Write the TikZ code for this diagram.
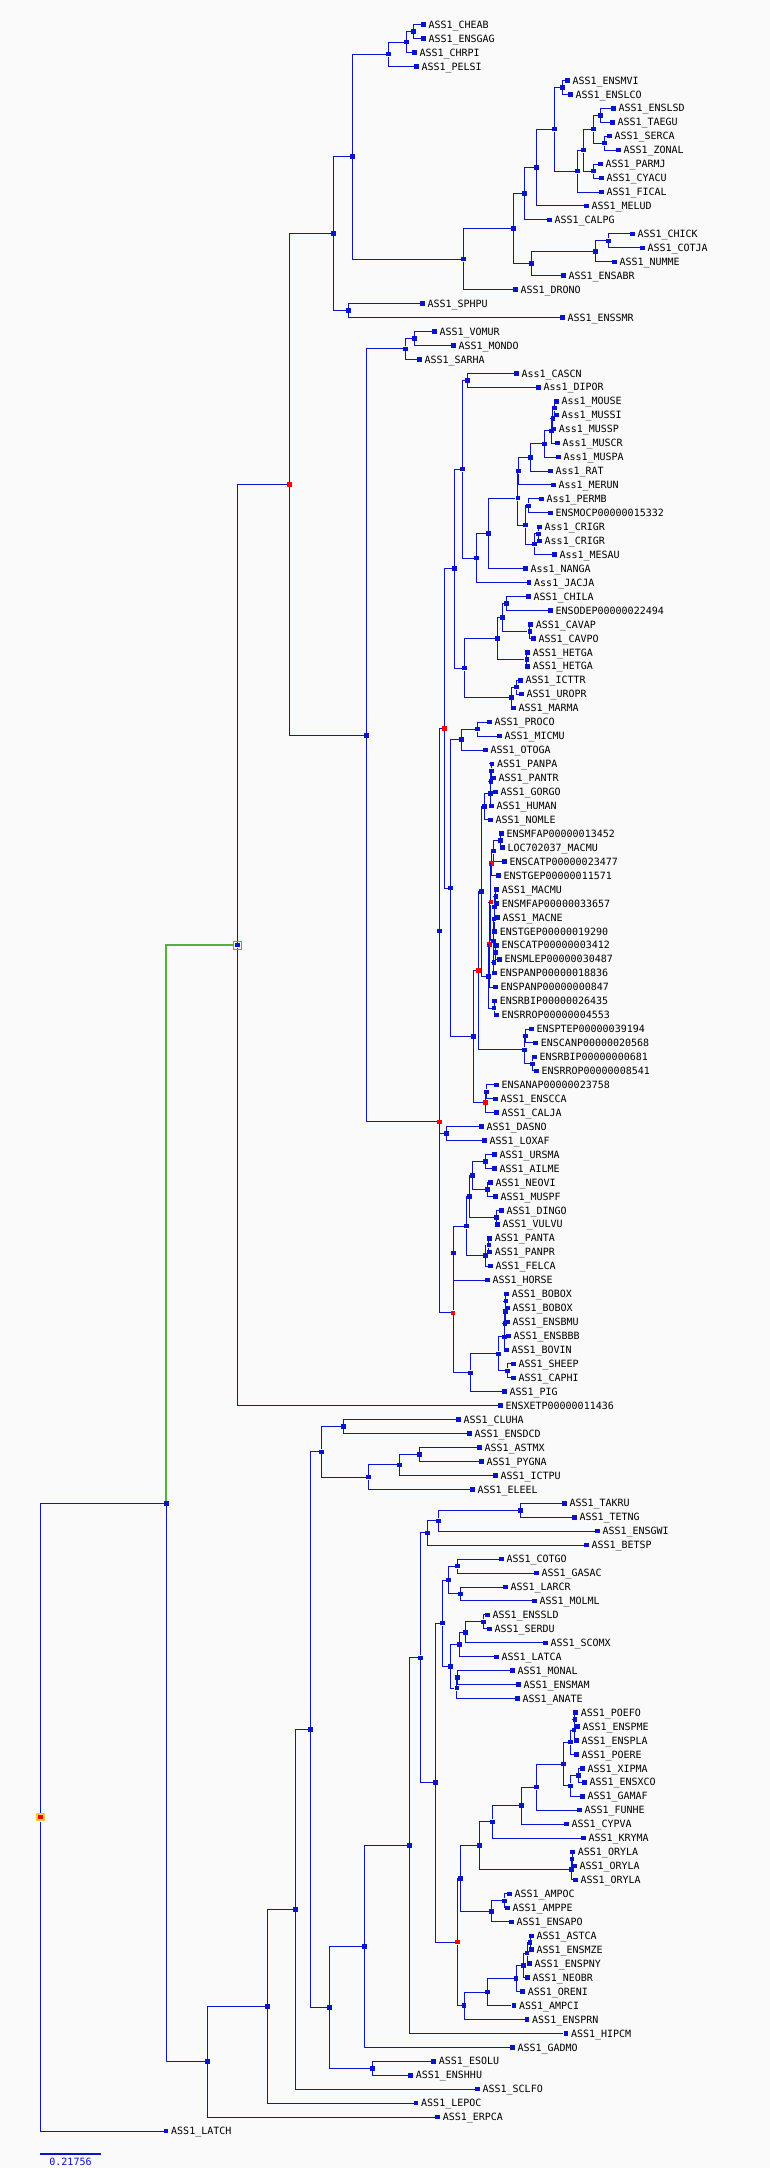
\documentclass[tikz,border=0pt]{standalone}
\usepackage{fontspec}
\setmonofont{DejaVu Sans Mono}
\usetikzlibrary{calc}
\definecolor{tb}{RGB}{10,20,205}
\definecolor{bgc}{RGB}{250,250,250}
\definecolor{gl}{RGB}{80,180,60}
\definecolor{rootyel}{RGB}{240,200,70}
\newcommand\myleaf[4]{%
  \node[sq] (#1) at (#2,{-24.6-(#3-1)*13.95}) {};
  \node[lab] (#1t) at ([xshift=5pt]#1.center) {\detokenize{#4}};}
\newcommand\mynodex[5]{%
  \path let \p1=(#4), \p2=(#5) in node[#1] (#2) at (#3,{0.5*(\y1+\y2)}) {};
  \draw[br] (#2) |- (#4);
  \draw[br] (#2) |- (#5);}
\newcommand\mynode{\mynodex{sq}}
\newcommand\myred{\mynodex{rsq}}
\begin{document}
\begin{tikzpicture}[x=1pt,y=1pt,
  br/.style={draw=tb,line width=1pt},
  gr/.style={draw=gl,line width=2.2pt},
  sq/.style={rectangle,fill=tb,inner sep=0pt,minimum size=4.5pt},
  rsq/.style={sq,fill=red},
  lab/.style={anchor=west,inner sep=0pt,font=\ttfamily\fontsize{10}{10}\selectfont,text height=7.3pt,text depth=0pt}]
\useasboundingbox (0,0) rectangle (770,-2168);
\fill[bgc] (0,0) rectangle (770,-2168);
% ---------------- leaves
\myleaf{l1}{423.3}{1}{ASS1_CHEAB}
\myleaf{l2}{423.3}{2}{ASS1_ENSGAG}
\myleaf{l3}{414.3}{3}{ASS1_CHRPI}
\myleaf{l4}{416.3}{4}{ASS1_PELSI}
\myleaf{l5}{567.3}{5}{ASS1_ENSMVI}
\myleaf{l6}{570.3}{6}{ASS1_ENSLCO}
\myleaf{l7}{613.3}{7}{ASS1_ENSLSD}
\myleaf{l8}{612.3}{8}{ASS1_TAEGU}
\myleaf{l9}{609.3}{9}{ASS1_SERCA}
\myleaf{l10}{618.3}{10}{ASS1_ZONAL}
\myleaf{l11}{600.3}{11}{ASS1_PARMJ}
\myleaf{l12}{601.3}{12}{ASS1_CYACU}
\myleaf{l13}{601.3}{13}{ASS1_FICAL}
\myleaf{l14}{586.3}{14}{ASS1_MELUD}
\myleaf{l15}{549.3}{15}{ASS1_CALPG}
\myleaf{l16}{632.3}{16}{ASS1_CHICK}
\myleaf{l17}{642.3}{17}{ASS1_COTJA}
\myleaf{l18}{614.3}{18}{ASS1_NUMME}
\myleaf{l19}{563.3}{19}{ASS1_ENSABR}
\myleaf{l20}{515.3}{20}{ASS1_DRONO}
\myleaf{l21}{422.3}{21}{ASS1_SPHPU}
\myleaf{l22}{562.3}{22}{ASS1_ENSSMR}
\myleaf{l23}{434.3}{23}{ASS1_VOMUR}
\myleaf{l24}{453.3}{24}{ASS1_MONDO}
\myleaf{l25}{419.3}{25}{ASS1_SARHA}
\myleaf{l26}{516.3}{26}{Ass1_CASCN}
\myleaf{l27}{538.3}{27}{Ass1_DIPOR}
\myleaf{l28}{556.3}{28}{Ass1_MOUSE}
\myleaf{l29}{556.3}{29}{Ass1_MUSSI}
\myleaf{l30}{553.6}{30}{Ass1_MUSSP}
\myleaf{l31}{557.3}{31}{Ass1_MUSCR}
\myleaf{l32}{558.3}{32}{Ass1_MUSPA}
\myleaf{l33}{550.3}{33}{Ass1_RAT}
\myleaf{l34}{553.3}{34}{Ass1_MERUN}
\myleaf{l35}{541.3}{35}{Ass1_PERMB}
\myleaf{l36}{550.3}{36}{ENSMOCP00000015332}
\myleaf{l37}{539.5}{37}{Ass1_CRIGR}
\myleaf{l38}{539.5}{38}{Ass1_CRIGR}
\myleaf{l39}{554.3}{39}{Ass1_MESAU}
\myleaf{l40}{525.3}{40}{Ass1_NANGA}
\myleaf{l41}{529.0}{41}{Ass1_JACJA}
\myleaf{l42}{528.3}{42}{ASS1_CHILA}
\myleaf{l43}{550.3}{43}{ENSODEP00000022494}
\myleaf{l44}{530.6}{44}{ASS1_CAVAP}
\myleaf{l45}{533.3}{45}{ASS1_CAVPO}
\myleaf{l46}{527.6}{46}{ASS1_HETGA}
\myleaf{l47}{527.6}{47}{ASS1_HETGA}
\myleaf{l48}{520.3}{48}{ASS1_ICTTR}
\myleaf{l49}{521.3}{49}{ASS1_UROPR}
\myleaf{l50}{513.3}{50}{ASS1_MARMA}
\myleaf{l51}{489.3}{51}{ASS1_PROCO}
\myleaf{l52}{499.3}{52}{ASS1_MICMU}
\myleaf{l53}{485.3}{53}{ASS1_OTOGA}
\myleaf{l54}{491.9}{54}{ASS1_PANPA}
\myleaf{l55}{493.3}{55}{ASS1_PANTR}
\myleaf{l56}{495.3}{56}{ASS1_GORGO}
\myleaf{l57}{491.3}{57}{ASS1_HUMAN}
\myleaf{l58}{490.3}{58}{ASS1_NOMLE}
\myleaf{l59}{501.3}{59}{ENSMFAP00000013452}
\myleaf{l60}{502.3}{60}{LOC702037_MACMU}
\myleaf{l61}{504.3}{61}{ENSCATP00000023477}
\myleaf{l62}{498.3}{62}{ENSTGEP00000011571}
\myleaf{l63}{496.6}{63}{ASS1_MACMU}
\myleaf{l64}{496.6}{64}{ENSMFAP00000033657}
\myleaf{l65}{497.3}{65}{ASS1_MACNE}
\myleaf{l66}{494.6}{66}{ENSTGEP00000019290}
\myleaf{l67}{496.3}{67}{ENSCATP00000003412}
\myleaf{l68}{499.3}{68}{ENSMLEP00000030487}
\myleaf{l69}{494.6}{69}{ENSPANP00000018836}
\myleaf{l70}{495.3}{70}{ENSPANP00000000847}
\myleaf{l71}{494.7}{71}{ENSRBIP00000026435}
\myleaf{l72}{496.3}{72}{ENSRROP00000004553}
\myleaf{l73}{531.3}{73}{ENSPTEP00000039194}
\myleaf{l74}{535.7}{74}{ENSCANP00000020568}
\myleaf{l75}{534.3}{75}{ENSRBIP00000000681}
\myleaf{l76}{536.3}{76}{ENSRROP00000008541}
\myleaf{l77}{496.3}{77}{ENSANAP00000023758}
\myleaf{l78}{495.3}{78}{ASS1_ENSCCA}
\myleaf{l79}{496.3}{79}{ASS1_CALJA}
\myleaf{l80}{481.3}{80}{ASS1_DASNO}
\myleaf{l81}{484.3}{81}{ASS1_LOXAF}
\myleaf{l82}{494.3}{82}{ASS1_URSMA}
\myleaf{l83}{494.3}{83}{ASS1_AILME}
\myleaf{l84}{490.3}{84}{ASS1_NEOVI}
\myleaf{l85}{495.3}{85}{ASS1_MUSPF}
\myleaf{l86}{501.3}{86}{ASS1_DINGO}
\myleaf{l87}{497.3}{87}{ASS1_VULVU}
\myleaf{l88}{489.6}{88}{ASS1_PANTA}
\myleaf{l89}{489.6}{89}{ASS1_PANPR}
\myleaf{l90}{490.3}{90}{ASS1_FELCA}
\myleaf{l91}{487.3}{91}{ASS1_HORSE}
\myleaf{l92}{506.6}{92}{ASS1_BOBOX}
\myleaf{l93}{507.3}{93}{ASS1_BOBOX}
\myleaf{l94}{507.3}{94}{ASS1_ENSBMU}
\myleaf{l95}{508.3}{95}{ASS1_ENSBBB}
\myleaf{l96}{506.3}{96}{ASS1_BOVIN}
\myleaf{l97}{513.3}{97}{ASS1_SHEEP}
\myleaf{l98}{513.3}{98}{ASS1_CAPHI}
\myleaf{l99}{504.3}{99}{ASS1_PIG}
\myleaf{l100}{500.3}{100}{ENSXETP00000011436}
\myleaf{l101}{458.3}{101}{ASS1_CLUHA}
\myleaf{l102}{469.3}{102}{ASS1_ENSDCD}
\myleaf{l103}{479.3}{103}{ASS1_ASTMX}
\myleaf{l104}{481.3}{104}{ASS1_PYGNA}
\myleaf{l105}{495.3}{105}{ASS1_ICTPU}
\myleaf{l106}{472.3}{106}{ASS1_ELEEL}
\myleaf{l107}{564.3}{107}{ASS1_TAKRU}
\myleaf{l108}{574.3}{108}{ASS1_TETNG}
\myleaf{l109}{597.3}{109}{ASS1_ENSGWI}
\myleaf{l110}{586.3}{110}{ASS1_BETSP}
\myleaf{l111}{501.3}{111}{ASS1_COTGO}
\myleaf{l112}{536.3}{112}{ASS1_GASAC}
\myleaf{l113}{505.3}{113}{ASS1_LARCR}
\myleaf{l114}{534.3}{114}{ASS1_MOLML}
\myleaf{l115}{487.3}{115}{ASS1_ENSSLD}
\myleaf{l116}{489.3}{116}{ASS1_SERDU}
\myleaf{l117}{545.3}{117}{ASS1_SCOMX}
\myleaf{l118}{496.3}{118}{ASS1_LATCA}
\myleaf{l119}{512.3}{119}{ASS1_MONAL}
\myleaf{l120}{518.3}{120}{ASS1_ENSMAM}
\myleaf{l121}{517.3}{121}{ASS1_ANATE}
\myleaf{l122}{575.6}{122}{ASS1_POEFO}
\myleaf{l123}{577.3}{123}{ASS1_ENSPME}
\myleaf{l124}{576.3}{124}{ASS1_ENSPLA}
\myleaf{l125}{576.3}{125}{ASS1_POERE}
\myleaf{l126}{582.3}{126}{ASS1_XIPMA}
\myleaf{l127}{584.3}{127}{ASS1_ENSXCO}
\myleaf{l128}{582.3}{128}{ASS1_GAMAF}
\myleaf{l129}{579.3}{129}{ASS1_FUNHE}
\myleaf{l130}{566.3}{130}{ASS1_CYPVA}
\myleaf{l131}{583.3}{131}{ASS1_KRYMA}
\myleaf{l132}{572.7}{132}{ASS1_ORYLA}
\myleaf{l133}{574.3}{133}{ASS1_ORYLA}
\myleaf{l134}{575.3}{134}{ASS1_ORYLA}
\myleaf{l135}{509.3}{135}{ASS1_AMPOC}
\myleaf{l136}{507.3}{136}{ASS1_AMPPE}
\myleaf{l137}{511.3}{137}{ASS1_ENSAPO}
\myleaf{l138}{531.3}{138}{ASS1_ASTCA}
\myleaf{l139}{531.3}{139}{ASS1_ENSMZE}
\myleaf{l140}{529.5}{140}{ASS1_ENSPNY}
\myleaf{l141}{527.5}{141}{ASS1_NEOBR}
\myleaf{l142}{522.6}{142}{ASS1_ORENI}
\myleaf{l143}{513.8}{143}{ASS1_AMPCI}
\myleaf{l144}{527.0}{144}{ASS1_ENSPRN}
\myleaf{l145}{565.8}{145}{ASS1_HIPCM}
\myleaf{l146}{512.3}{146}{ASS1_GADMO}
\myleaf{l147}{433.7}{147}{ASS1_ESOLU}
\myleaf{l148}{410.6}{148}{ASS1_ENSHHU}
\myleaf{l149}{477.4}{149}{ASS1_SCLFO}
\myleaf{l150}{416.0}{150}{ASS1_LEPOC}
\myleaf{l151}{437.6}{151}{ASS1_ERPCA}
\myleaf{l152}{166.0}{152}{ASS1_LATCH}
% ---------------- birds
\mynode{na}{413.3}{l1}{l2}
\mynode{nb}{406.3}{na}{l3}
\mynode{nc}{388.3}{nb}{l4}
\mynode{nd}{562.3}{l5}{l6}
\mynode{ne}{600.3}{l7}{l8}
\mynode{nf}{604.3}{l9}{l10}
\mynode{ng}{593.3}{ne}{nf}
\mynode{nh}{593.3}{l11}{l12}
\mynode{ni}{583.3}{ng}{nh}
\mynode{nj}{577.3}{ni}{l13}
\mynode{nk}{554.3}{nd}{nj}
\mynode{nl}{536.3}{nk}{l14}
\mynode{nm}{524.3}{nl}{l15}
\mynode{nn}{608.3}{l16}{l17}
\mynode{no}{595.3}{nn}{l18}
\mynode{np}{531.3}{no}{l19}
\mynode{nq}{513.3}{nm}{np}
\mynode{nr}{463.3}{nq}{l20}
\mynode{ns}{352.3}{nc}{nr}
\mynode{nt}{348.3}{l21}{l22}
\mynode{nu}{333.3}{ns}{nt}
% ---------------- mammals
\mynode{nv}{414.3}{l23}{l24}
\mynode{nw}{405.3}{nv}{l25}
\mynode{nx}{467.3}{l26}{l27}
\mynode{mm1}{554.3}{l28}{l29}
\mynode{mm2}{552.8}{mm1}{l30}
\mynode{mm3}{551.3}{mm2}{l31}
\mynode{mm4}{544.3}{mm3}{l32}
\mynode{mm5}{530.3}{mm4}{l33}
\mynode{mm6}{518.6}{mm5}{l34}
\mynode{cr1}{528.3}{l35}{l36}
\mynode{cr2}{538.6}{l37}{l38}
\mynode{cr3}{534.3}{cr2}{l39}
\mynode{cr4}{525.3}{cr1}{cr3}
\mynode{mm7}{517.8}{mm6}{cr4}
\mynode{nnn}{488.3}{mm7}{l40}
\mynode{jj}{476.3}{nnn}{l41}
\mynode{rod1}{462.3}{nx}{jj}
\mynode{h1}{506.3}{l42}{l43}
\mynode{h2}{529.8}{l44}{l45}
\mynode{h3}{502.3}{h1}{h2}
\mynode{h4}{526.8}{l46}{l47}
\mynode{h5}{497.3}{h3}{h4}
\mynode{s1}{516.3}{l48}{l49}
\mynode{s2}{511.3}{s1}{l50}
\mynode{hy}{464.3}{h5}{s2}
\mynode{rod2}{454.3}{rod1}{hy}
\mynode{pp1}{477.3}{l51}{l52}
\mynode{pp2}{461.3}{pp1}{l53}
\mynode{ap1}{491.4}{l54}{l55}
\mynode{ap2}{490.9}{ap1}{l56}
\mynode{ap3}{490.3}{ap2}{l57}
\mynode{ap4}{484.3}{ap3}{l58}
\mynode{ow1}{500.3}{l59}{l60}
\mynode{ow2}{493.3}{ow1}{l61}
\myred{ow3}{491.6}{ow2}{l62}
\mynode{ow4}{495.8}{l63}{l64}
\mynode{q1}{494.6}{ow4}{l65}
\mynode{q2}{494.0}{q1}{l66}
\mynode{w1}{495.3}{l67}{l68}
\mynode{w2}{493.9}{w1}{l69}
\mynode{yy}{493.3}{q2}{w2}
\myred{r63}{490.9}{ow3}{yy}
\myred{rz}{489.3}{r63}{l70}
\mynode{rr}{494.0}{l71}{l72}
\mynode{owm}{488.3}{rz}{rr}
\mynode{c1}{481.7}{ap4}{owm}
\mynode{n73}{525.3}{l73}{l74}
\mynode{n75}{532.3}{l75}{l76}
\mynode{n74}{524.3}{n73}{n75}
\myred{r3}{478.7}{c1}{n74}
\mynode{nw1}{486.3}{l77}{l78}
\myred{rpl}{485.3}{nw1}{l79}
\mynode{an}{473.3}{r3}{rpl}
\mynode{pr}{450.3}{pp2}{an}
\myred{r2}{444.3}{rod2}{pr}
\mynode{afro}{446.3}{l80}{l81}
\mynode{aa}{439.7}{r2}{afro}
\mynode{ca1}{485.3}{l82}{l83}
\mynode{ca2}{487.3}{l84}{l85}
\mynode{ca3}{472.3}{ca1}{ca2}
\mynode{ca4}{496.3}{l86}{l87}
\mynode{ca5}{469.3}{ca3}{ca4}
\mynode{fe1}{488.8}{l88}{l89}
\mynode{fe2}{485.3}{fe1}{l90}
\mynode{lr1}{466.3}{ca5}{fe2}
\mynode{lr2}{453.6}{lr1}{l91}
\mynode{bo1}{505.9}{l92}{l93}
\mynode{bo2}{505.5}{bo1}{l94}
\mynode{bo3}{504.9}{bo2}{l95}
\mynode{bo4}{504.3}{bo3}{l96}
\mynode{sg}{507.3}{l97}{l98}
\mynode{bv}{498.3}{bo4}{sg}
\mynode{art}{470.3}{bv}{l99}
\myred{r5}{453.0}{lr2}{art}
\myred{r4}{439.3}{aa}{r5}
\mynode{p1}{366.3}{nw}{r4}
\myred{r1}{289.3}{nu}{p1}
\mynode{G}{237.3}{r1}{l100}
\node[draw=gl,line width=1pt,inner sep=0pt,minimum size=8pt] (Gring) at (G) {};
% ---------------- fish
\mynode{f1}{343.3}{l101}{l102}
\mynode{f2}{419.3}{l103}{l104}
\mynode{f3}{399.3}{f2}{l105}
\mynode{f4}{368.3}{f3}{l106}
\mynode{f5}{321.3}{f1}{f4}
\mynode{f7}{520.3}{l107}{l108}
\mynode{f8}{438.3}{f7}{l109}
\mynode{f9}{427.3}{f8}{l110}
\mynode{a1}{457.3}{l111}{l112}
\mynode{a2}{460.3}{l113}{l114}
\mynode{a3}{448.3}{a1}{a2}
\mynode{b1}{483.3}{l115}{l116}
\mynode{b2}{465.3}{b1}{l117}
\mynode{b3}{459.3}{b2}{l118}
\mynode{cc1}{457.6}{l119}{l120}
\mynode{cc2}{456.9}{cc1}{l121}
\mynode{d1}{450.3}{b3}{cc2}
\mynode{d2}{442.3}{a3}{d1}
\mynode{pf1}{574.9}{l122}{l123}
\mynode{pf2}{574.0}{pf1}{l124}
\mynode{pf3}{570.3}{pf2}{l125}
\mynode{xx1}{578.3}{l126}{l127}
\mynode{xx2}{570.3}{xx1}{l128}
\mynode{pc}{563.3}{pf3}{xx2}
\mynode{fh}{536.3}{pc}{l129}
\mynode{cv}{521.3}{fh}{l130}
\mynode{kr}{492.3}{cv}{l131}
\mynode{or1}{572.0}{l132}{l133}
\mynode{or2}{571.4}{or1}{l134}
\mynode{cy5}{479.3}{kr}{or2}
\mynode{am1}{504.3}{l135}{l136}
\mynode{am2}{491.3}{am1}{l137}
\mynode{xa}{460.3}{cy5}{am2}
\mynode{ci1}{530.0}{l138}{l139}
\mynode{ci2}{527.0}{ci1}{l140}
\mynode{ci3}{523.6}{ci2}{l141}
\mynode{ci4}{516.2}{ci3}{l142}
\mynode{ci5}{487.7}{ci4}{l143}
\mynode{ci6}{464.1}{ci5}{l144}
\myred{r6}{457.3}{xa}{ci6}
\mynode{d3}{435.3}{d2}{r6}
\mynode{f10}{420.3}{f9}{d3}
\mynode{f11}{409.3}{f10}{l145}
\mynode{f12}{364.3}{f11}{l146}
\mynode{es}{372.3}{l147}{l148}
\mynode{f13}{329.3}{f12}{es}
\mynode{f6}{310.3}{f5}{f13}
\mynode{n295}{295.5}{f6}{l149}
\mynode{n267}{267.5}{n295}{l150}
\mynode{n207}{207.5}{n267}{l151}
% ---------------- base of the tree
\path let \p1=(G), \p2=(n207) in node[sq] (N) at (166.3,{0.5*(\y1+\y2)}) {};
\draw[gr] (N) |- (Gring);
\draw[br] (N) |- (n207);
\node[sq] (N) at (N) {};
\mynodex{sq,fill=rootyel,minimum size=8.5pt}{root}{40.3}{N}{l152}
\node[rsq,minimum size=4.5pt] (rootc) at (root) {};
% ---------------- scale bar
\coordinate (sbL) at (40.3,-2153.7);
\coordinate (sbR) at (100.7,-2153.7);
\draw[draw=tb,line width=2pt] (sbL) -- (sbR);
\node[lab,anchor=center,text=tb] (sbT) at (70.5,-2162) {0.21756};
\end{tikzpicture}
\end{document}
